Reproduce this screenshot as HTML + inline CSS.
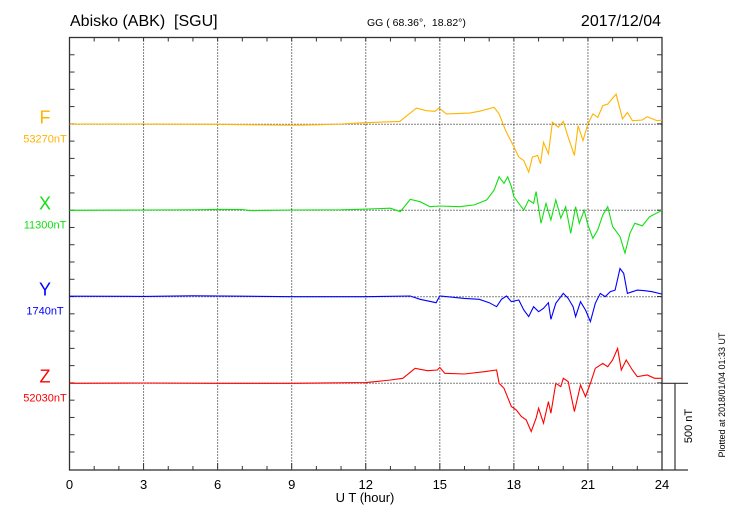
<!DOCTYPE html>
<html><head><meta charset="utf-8"><style>
html,body{margin:0;padding:0;background:#fff}
svg{display:block;font-family:"Liberation Sans",sans-serif}
text{white-space:pre}
</style></head><body>
<svg id="c" width="730" height="520" viewBox="0 0 730 520">
<text x="70" y="26" font-size="16" fill="#000" xml:space="preserve">Abisko (ABK)  [SGU]</text>
<text x="367" y="26" font-size="10.5" fill="#000" xml:space="preserve">GG ( 68.36°,  18.82°)</text>
<text x="661" y="26" font-size="16" fill="#000" text-anchor="end">2017/12/04</text>
<text x="365" y="502" font-size="13" fill="#000" text-anchor="middle">U T (hour)</text>
<text transform="translate(725,395) rotate(-90)" font-size="9" fill="#000" text-anchor="middle">Plotted at 2018/01/04 01:33 UT</text>
<text transform="translate(692,426) rotate(-90)" font-size="11" fill="#000" text-anchor="middle">500 nT</text>
<g id="grid"></g><g id="axes"></g><g id="series"></g>
</svg>
<script>
const xTicks=[0,3,6,9,12,15,18,21,24];
const seriesNames=["F","X","Y","Z"];
const baseLabels=["53270nT","11300nT","1740nT","52030nT"];
const colors=["#ffb400","#10e010","#0000ff","#ff0000"];
const fH=[0,3,6,8,9,10,11,11.76,13.38,14.05,14.46,14.8,14.97,15.27,16.2,16.6,17.2,17.4,17.67,17.94,18.2,18.4,18.6,18.75,18.96,19.08,19.2,19.4,19.56,19.8,20.0,20.2,20.45,20.6,20.8,21.0,21.2,21.4,21.6,21.8,22.14,22.4,22.6,22.8,23.2,23.4,23.8,24];
const fV=[2,2,0,-4,-5,-3,2,8,17,94,79,75,94,60,65,75,98,60,-37,-113,-190,-210,-277,-190,-180,-229,-104,-171,12,-17,17,-75,-180,-8,-94,2,60,40,108,117,175,31,69,21,25,44,21,25];
const xH=[0,3,5,6,7,7.3,9,11,11.76,13.0,13.4,13.8,14.2,14.6,15.0,15.8,16.4,16.9,17.2,17.4,17.6,17.75,17.9,18.0,18.2,18.4,18.6,18.8,18.9,19.1,19.3,19.5,19.7,19.9,20.1,20.3,20.5,20.65,20.85,21.0,21.2,21.4,21.6,21.8,22.0,22.3,22.5,22.7,22.9,23.2,23.5,23.9,24];
const xV=[0,2,3,5,4,-2,2,3,6,12,-8,63,50,21,25,21,31,60,117,194,156,194,137,79,40,2,60,40,108,-75,40,-56,60,-46,21,-133,21,-75,0,-85,-162,-113,-27,21,-94,-152,-248,-133,-75,-90,-37,-8,2];
const yH=[0,3,5,7,9,12,13.8,14.2,14.85,15.0,16.0,16.6,17.0,17.3,17.5,17.7,17.9,18.2,18.4,18.6,18.8,19.0,19.2,19.4,19.5,19.7,19.9,20.0,20.2,20.4,20.5,20.7,20.9,21.1,21.3,21.5,21.7,21.9,22.1,22.3,22.45,22.6,22.8,23.0,23.3,23.6,24];
const yV=[3,2,5,3,0,0,4,-15,-35,4,-10,-15,-35,-58,-15,4,-29,-19,-77,-115,-58,-87,-67,-35,-131,-38,0,19,-10,-58,-115,-29,-77,-144,-38,19,0,29,38,163,135,19,29,38,35,29,15];
const zH=[0,3,6,9,12,13.0,13.5,14.0,14.5,14.9,15.0,15.2,16.0,16.8,17.3,17.4,17.6,17.9,18.1,18.3,18.5,18.7,18.9,19.0,19.2,19.4,19.5,19.7,19.9,20.0,20.2,20.45,20.7,20.9,21.1,21.3,21.6,21.8,22.0,22.2,22.35,22.55,22.8,23.0,23.4,23.7,24];
const zV=[0,2,0,0,4,19,29,87,73,77,92,58,54,67,77,0,-29,-135,-154,-192,-212,-279,-202,-144,-231,-106,-173,0,-19,29,10,-163,-10,-77,0,87,115,96,135,202,77,135,77,38,48,29,29];
const allH=[fH,xH,yH,zH], allV=[fV,xV,yV,zV];
const L=69.5,R=662,T=37.5,B=470,baseY=[124.3,210.3,296.7,383.3],pxPerNT=17.27/100;
const sx=h=>L+(R-L)*h/24;
const sy=(i,v)=>baseY[i]-v*pxPerNT;
const NS="http://www.w3.org/2000/svg";
function mk(tag,at,parent){const e=document.createElementNS(NS,tag);for(const k in at)e.setAttribute(k,at[k]);document.getElementById(parent).appendChild(e);return e;}
xTicks.forEach(h=>{if(h>0&&h<24){const g=mk('line',{x1:sx(h),x2:sx(h),y1:T,y2:B,stroke:'#000','stroke-width':1,'stroke-dasharray':'1,2'},'grid');

}});
baseY.forEach((y,i)=>{const g=mk('line',{x1:L,x2:R,y1:y,y2:y,stroke:'#000','stroke-width':1,'stroke-dasharray':'1,2'},'grid');

});
const fr=mk('rect',{x:L,y:T,width:R-L,height:B-T,fill:'none',stroke:'#333','stroke-width':1.3},'axes');


for(let h=0;h<=24;h++){const len=h%3===0?7:4;
const t1=mk('line',{x1:sx(h),x2:sx(h),y1:B,y2:B-len,stroke:'#333'},'axes');


const t2=mk('line',{x1:sx(h),x2:sx(h),y1:T,y2:T+4,stroke:'#333'},'axes');

}
for(let y=T+17.27;y<B-1;y+=17.27){
const a=mk('line',{x1:L,x2:L+5,y1:y,y2:y,stroke:'#333'},'axes');


const b=mk('line',{x1:R,x2:R-5,y1:y,y2:y,stroke:'#333'},'axes');

}
xTicks.forEach(h=>{const t=mk('text',{x:sx(h),y:489,'font-size':13,'text-anchor':'middle',fill:'#000'},'axes');t.textContent=h;

});
[[R,688,383.3,383.3],[675,675,383.3,B],[R,688,B,B]].forEach(c=>{const s=mk('line',{x1:c[0],x2:c[1],y1:c[2],y2:c[3],stroke:'#333','stroke-width':1.2},'axes');

});
seriesNames.forEach((n,i)=>{
const d=allH[i].map((h,k)=>(k?'L':'M')+sx(h).toFixed(1)+','+sy(i,allV[i][k]).toFixed(1)).join('');
const p=mk('path',{d:d,fill:'none',stroke:colors[i],'stroke-width':1.1},'series');


const t=mk('text',{x:45,y:baseY[i]-1,'font-size':18,'text-anchor':'middle',fill:colors[i]},'series');t.textContent=n;


const b=mk('text',{x:45,y:baseY[i]+18,'font-size':11,'text-anchor':'middle',fill:colors[i]},'series');b.textContent=baseLabels[i];


});
</script>
</body></html>
